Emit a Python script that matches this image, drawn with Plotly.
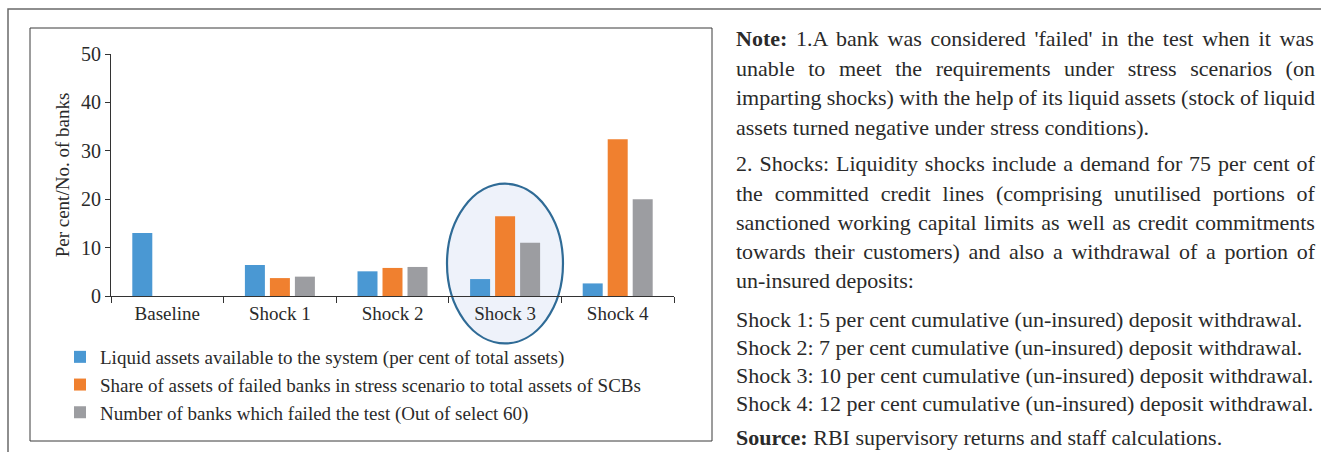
import plotly.graph_objects as go

# ---------------- data ----------------
categories = ["Baseline", "Shock 1", "Shock 2", "Shock 3", "Shock 4"]
liquid_assets = [13.0, 6.4, 5.1, 3.5, 2.6]
failed_share = [0.0, 3.7, 5.8, 16.5, 32.4]
failed_banks = [0, 4, 6, 11, 20]
series_names = [
    "Liquid assets available to the system (per cent of total assets)",
    "Share of assets of failed banks in stress scenario to total assets of SCBs",
    "Number of banks which failed the test (Out of select 60)",
]
series_colors = ["#4A98D3", "#F0802F", "#9C9DA1"]
y_ticks = [0, 10, 20, 30, 40, 50]
y_title = "Per cent/No. of banks"
highlight_category = "Shock 3"

# note text: (bold prefix, rest, justified?)
note_lines = [
    ("Note:", " 1.A bank was considered 'failed' in the test when it was", True),
    ("", "unable to meet the requirements under stress scenarios (on", True),
    ("", "imparting shocks) with the help of its liquid assets (stock of liquid", True),
    ("", "assets turned negative under stress conditions).", False),
    ("", "2. Shocks: Liquidity shocks include a demand for 75 per cent of", True),
    ("", "the committed credit lines (comprising unutilised portions of", True),
    ("", "sanctioned working capital limits as well as credit commitments", True),
    ("", "towards their customers) and also a withdrawal of a portion of", True),
    ("", "un-insured deposits:", False),
    ("", "Shock 1: 5 per cent cumulative (un-insured) deposit withdrawal.", False),
    ("", "Shock 2: 7 per cent cumulative (un-insured) deposit withdrawal.", False),
    ("", "Shock 3: 10 per cent cumulative (un-insured) deposit withdrawal.", False),
    ("", "Shock 4: 12 per cent cumulative (un-insured) deposit withdrawal.", False),
    ("Source:", " RBI supervisory returns and staff calculations.", False),
]
note_line_y = [38, 68, 97, 127, 163, 193, 222, 251, 280, 319, 347, 375, 403, 437]

# ---------------- layout constants ----------------
W, H = 1321, 452
ML, MR, MT, MB = 111, 647, 54, 156
PW, PH = W - ML - MR, H - MT - MB
FONT = "Liberation Serif"
TXT = "#2a2a2a"
NOTE_FS = 22
NOTE_X0, NOTE_X1 = 734, 1313


def px_x(px):
    return (px - ML) / PW


def px_y(py):
    return (H - MB - py) / PH


# Times / Liberation Serif advance widths (1/1000 em)
REG = {" ": 250, "'": 180, "(": 333, ")": 333, ",": 250, "-": 333, ".": 250,
       "/": 278, ":": 278, ";": 278}
for d in "0123456789":
    REG[d] = 500
REG.update(dict(A=722, B=667, C=667, D=722, E=611, F=556, G=722, H=722, I=333,
                J=389, K=722, L=611, M=889, N=722, O=722, P=556, Q=722, R=667,
                S=556, T=611, U=722, V=722, W=944, X=722, Y=722, Z=611))
REG.update(dict(a=444, b=500, c=444, d=500, e=444, f=333, g=500, h=500, i=278,
                j=278, k=500, l=278, m=778, n=500, o=500, p=500, q=500, r=333,
                s=389, t=278, u=500, v=500, w=722, x=500, y=500, z=444))
BOLD = dict(REG)
BOLD.update({":": 333, "t": 333, "u": 556, "r": 444, "S": 556, "N": 722})


def text_width(bold, rest, fs):
    em = sum(BOLD.get(ch, 500) for ch in bold) + sum(REG.get(ch, 500) for ch in rest)
    return em * fs / 1000.0


# ---------------- figure ----------------
fig = go.Figure()
for name, vals, col in zip(series_names, [liquid_assets, failed_share, failed_banks], series_colors):
    fig.add_trace(go.Bar(x=categories, y=vals, name=name, marker=dict(color=col, line=dict(width=0))))

shapes = []
# outer frame (top + left edges)
shapes.append(dict(type="rect", xref="paper", yref="paper", layer="below",
                   x0=px_x(8), x1=px_x(1340), y0=px_y(470), y1=px_y(9),
                   line=dict(color="#6a6a6a", width=1.5), fillcolor="rgba(0,0,0,0)"))
# inner chart box
shapes.append(dict(type="rect", xref="paper", yref="paper", layer="below",
                   x0=px_x(30), x1=px_x(712), y0=px_y(441), y1=px_y(28),
                   line=dict(color="#3a3a3a", width=1), fillcolor="rgba(0,0,0,0)"))
# highlight ellipse around Shock 3
hi = categories.index(highlight_category)
ymax = y_ticks[-1]
shapes.append(dict(type="circle", xref="x", yref="paper", layer="below",
                   x0=hi - 0.516, x1=hi + 0.514,
                   y0=-9.8 / ymax, y1=23.2 / ymax,
                   line=dict(color="#2F6B96", width=2.2), fillcolor="#EEF2FA"))

annotations = []
for (bold, rest, just), py in zip(note_lines, note_line_y):
    full = bold + rest
    if just:
        nat = text_width(bold, rest, NOTE_FS)
        nsp = full.count(" ")
        ws = (NOTE_X1 - NOTE_X0 - nat) / nsp
    else:
        ws = 0.0
    body = (f"<b>{bold}</b>" if bold else "") + rest
    txt = f"<span style='word-spacing:{ws:.2f}px'>{body}</span>"
    annotations.append(dict(text=txt, xref="paper", yref="paper", x=px_x(NOTE_X0), y=px_y(py),
                            xanchor="left", yanchor="middle", showarrow=False, align="left",
                            font=dict(family=FONT, size=NOTE_FS, color=TXT)))

fig.update_layout(
    width=W, height=H,
    margin=dict(l=ML, r=MR, t=MT, b=MB, pad=0),
    paper_bgcolor="white", plot_bgcolor="rgba(0,0,0,0)",
    font=dict(family=FONT, size=19, color=TXT),
    barmode="group", bargap=0.334, bargroupgap=0.2,
    showlegend=True,
    legend=dict(x=px_x(60), y=px_y(338), xanchor="left", yanchor="top",
                bgcolor="rgba(0,0,0,0)", font=dict(family=FONT, size=19, color=TXT),
                tracegroupgap=0, itemwidth=30),
    shapes=shapes,
    annotations=annotations,
)
fig.update_xaxes(type="category", range=[-0.5, len(categories) - 0.5],
                 showline=True, linecolor="#333333", linewidth=1.2,
                 ticks="outside", tickson="boundaries", ticklen=6, tickcolor="#333333",
                 showgrid=False, zeroline=False,
                 tickfont=dict(family=FONT, size=19, color=TXT))
fig.update_yaxes(range=[0, ymax], tickvals=y_ticks, showline=True, linecolor="#333333",
                 linewidth=1, ticks="outside", ticklen=5, tickcolor="#333333",
                 showgrid=False, zeroline=False,
                 tickfont=dict(family=FONT, size=20, color=TXT),
                 title=dict(text=y_title, font=dict(family=FONT, size=19, color=TXT), standoff=6))

fig.write_html(
    "out.html",
    config={"displayModeBar": False},
    post_script="document.body.style.margin='0';document.body.style.overflow='hidden';",
)
